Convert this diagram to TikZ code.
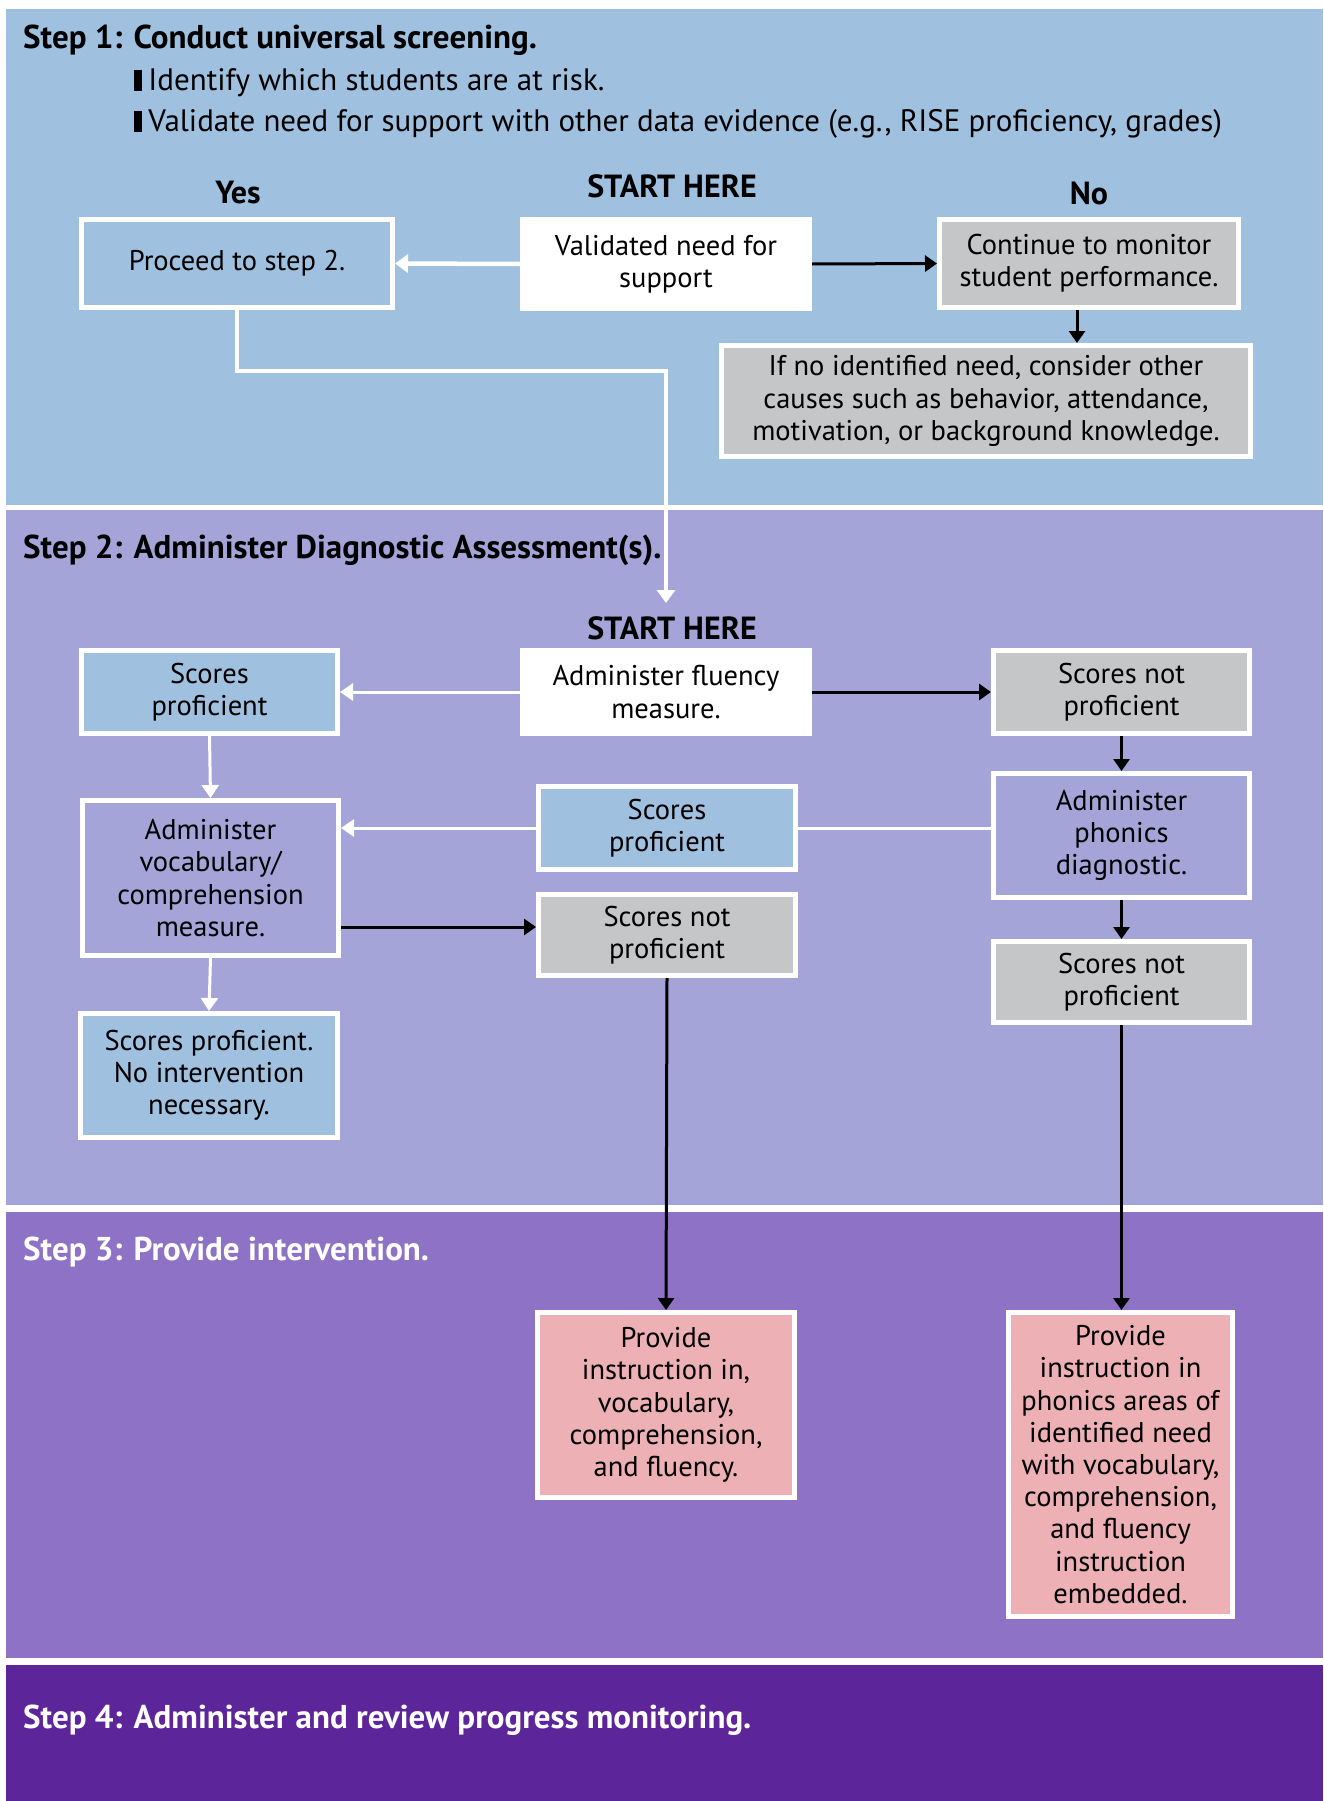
\documentclass[tikz,border=0pt]{standalone}
\usepackage{fontspec}
\setmainfont{PT Sans}
\usetikzlibrary{arrows.meta}
\definecolor{bgone}{HTML}{9FC0DE}
\definecolor{bgtwo}{HTML}{A4A4D8}
\definecolor{bgthree}{HTML}{8E72C5}
\definecolor{bgfour}{HTML}{5C2599}
\definecolor{grayfill}{HTML}{C5C6C8}
\definecolor{pinkfill}{HTML}{EDB0B5}
\begin{document}
\begin{tikzpicture}[x=1pt,y=-1pt,
  box/.style={draw=white, line width=5pt, align=center, inner sep=0pt, font=\fontsize{28.5}{32.2}\selectfont, text=black},
  title/.style={anchor=west, inner sep=0pt, font=\bfseries\fontsize{33}{36}\selectfont},
  label/.style={inner sep=0pt, font=\bfseries\fontsize{32}{36}\selectfont},
  bullet/.style={anchor=west, inner sep=0pt, font=\fontsize{31}{36}\selectfont},
  blk/.style={draw=black, line width=3pt, -{Triangle[length=12pt,width=16pt]}},
  wht/.style={draw=white, line width=4.5pt, -{Triangle[length=13pt,width=18pt]}},
  whtthin/.style={draw=white, line width=3pt, -{Triangle[length=13pt,width=17pt]}},
  whtline/.style={draw=white, line width=3pt}
]
\useasboundingbox (0,0) rectangle (1323,1801);
\fill[white] (0,0) rectangle (1323,1801);
\fill[bgone] (6,9) rectangle (1323,505);
\fill[bgtwo] (6,510) rectangle (1323,1205);
\fill[bgthree] (6,1212) rectangle (1323,1658);
\fill[bgfour] (6,1665) rectangle (1323,1801);

% Step 1
\node[title] (t1) at (23,40) {Step 1: Conduct universal screening.};
\node[bullet] (b1) at (134,83) {\rule[0pt]{0.26em}{0.68em}\hspace{0.2em}Identify which students are at risk.};
\node[bullet] (b2) at (134,124) {\rule[0pt]{0.26em}{0.68em}\hspace{0.2em}Validate need for support with other data evidence (e.g., RISE proficiency, grades)};
\node[label] (yes) at (238,193) {Yes};
\node[label] (start1) at (672,186) {START HERE};
\node[label] (no) at (1089,193) {No};

\node[box, fill=bgone, minimum width=311pt, minimum height=88pt] (proceed) at (237,263.5) {Proceed to step 2.};
\node[box, fill=white, minimum width=287pt, minimum height=89pt] (validated) at (666,264) {Validated need for\\support};
\node[box, fill=grayfill, minimum width=299pt, minimum height=88pt] (continue) at (1089,263.5) {Continue to monitor\\student performance.};
\node[box, fill=grayfill, minimum width=529pt, minimum height=111pt] (ifno) at (986,401) {If no identified need, consider other\\causes such as behavior, attendance,\\motivation, or background knowledge.};

\draw[wht] (validated.west) -- (proceed.east);
\draw[blk] (validated.east) -- (continue.west);
\draw[blk] ([xshift=-12pt]continue.south) -- ([xshift=-12pt]continue.south |- ifno.north);

% Step 2
\node[title] (t2) at (23,550) {Step 2: Administer Diagnostic Assessment(s).};
\node[label] (start2) at (672,628) {START HERE};
\coordinate (bend) at (666,371);
\coordinate (tip2) at (666,603);
\draw[wht] (proceed.south) |- (bend) -- (tip2);

\node[box, fill=white, minimum width=287pt, minimum height=83pt] (fluency) at (666,692) {Administer fluency\\measure.};
\node[box, fill=bgone, minimum width=256pt, minimum height=83pt] (sp1) at (209.5,692) {Scores\\proficient};
\node[box, fill=grayfill, minimum width=256pt, minimum height=83pt] (snp1) at (1121.5,692) {Scores not\\proficient};
\node[box, fill=bgtwo, minimum width=256pt, minimum height=155pt] (vocab) at (210.5,878) {Administer\\vocabulary/\\comprehension\\measure.};
\node[box, fill=bgone, minimum width=257pt, minimum height=83pt] (sp2) at (667,828) {Scores\\proficient};
\node[box, fill=grayfill, minimum width=257pt, minimum height=81pt] (snp2) at (667,935) {Scores not\\proficient};
\node[box, fill=bgtwo, minimum width=256pt, minimum height=124pt] (phon) at (1121.5,835.5) {Administer\\phonics\\diagnostic.};
\node[box, fill=grayfill, minimum width=256pt, minimum height=81pt] (snp3) at (1121.5,982) {Scores not\\proficient};
\node[box, fill=bgone, minimum width=257pt, minimum height=124pt] (noint) at (209,1075.5) {Scores proficient.\\No intervention\\necessary.};

\draw[whtthin] (fluency.west) -- (sp1.east);
\draw[blk] (fluency.east) -- (snp1.west);
\draw[whtthin] (sp1.south) -- (vocab.north);
\draw[blk] (snp1.south) -- (phon.north);
\draw[blk] (phon.south) -- (snp3.north);
\draw[whtline] (phon.west |- sp2.east) -- (sp2.east);
\draw[whtthin] (sp2.west) -- (sp2.west -| vocab.east);
\draw[blk] ([yshift=8pt]snp2.west -| vocab.east) -- ([yshift=8pt]snp2.west);
\draw[whtthin] (vocab.south) -- (noint.north);

% Step 3
\node[title, text=white] (t3) at (23,1252) {Step 3: Provide intervention.};
\node[box, fill=pinkfill, minimum width=257pt, minimum height=185pt] (pink1) at (666,1405) {Provide\\instruction in,\\vocabulary,\\comprehension,\\and fluency.};
\node[box, fill=pinkfill, minimum width=224pt, minimum height=304pt] (pink2) at (1120.5,1464.5) {Provide\\instruction in\\phonics areas of\\identified need\\with vocabulary,\\comprehension,\\and fluency\\instruction\\embedded.};
\draw[blk] (snp2.south) -- (pink1.north);
\draw[blk] (snp3.south) -- (snp3.south |- pink2.north);

% Step 4
\node[title, text=white] (t4) at (23,1720) {Step 4: Administer and review progress monitoring.};
\end{tikzpicture}
\end{document}
